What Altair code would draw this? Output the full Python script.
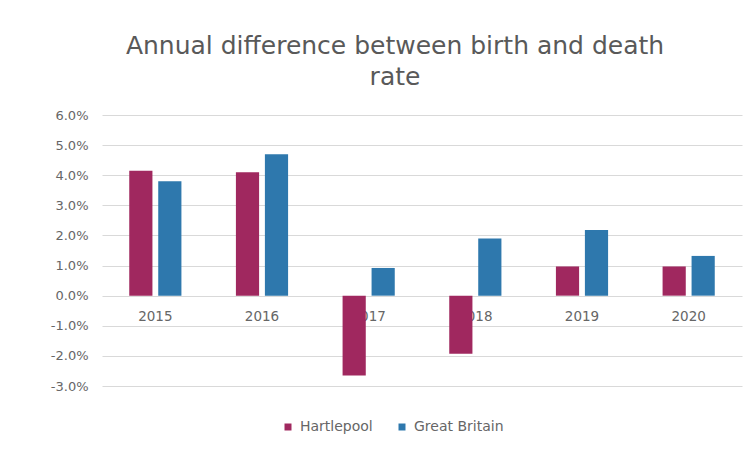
import altair as alt
import pandas as pd

years = ["2015", "2016", "2017", "2018", "2019", "2020"]
series = ["Hartlepool", "Great Britain"]
hartlepool = [4.15, 4.1, -2.65, -1.93, 0.97, 0.97]
great_britain = [3.8, 4.7, 0.92, 1.9, 2.18, 1.32]
y_ticks = [-3, -2, -1, 0, 1, 2, 3, 4, 5, 6]
colors = ["#a0285f", "#2e78ad"]

rows = []
for i, y in enumerate(years):
    rows.append({"year": y, "series": series[0], "value": hartlepool[i] / 100})
    rows.append({"year": y, "series": series[1], "value": great_britain[i] / 100})
df = pd.DataFrame(rows)

FONT = "DejaVu Sans"
TXT = "#666666"

chart = alt.Chart(df).mark_bar().encode(
    x=alt.X("year:N", sort=years,
            scale=alt.Scale(paddingInner=0, paddingOuter=0),
            axis=alt.Axis(title=None, offset=-90, domain=False, ticks=False,
                          labelAngle=0, labelPadding=13, labelFontSize=13.5,
                          labelColor=TXT, labelFont=FONT, grid=False)),
    xOffset=alt.XOffset("series:N", sort=series,
                        scale=alt.Scale(paddingInner=0.2, paddingOuter=0.94)),
    y=alt.Y("value:Q",
            scale=alt.Scale(domain=[-0.03, 0.06], nice=False, zero=False),
            axis=alt.Axis(title=None, values=[v / 100 for v in y_ticks],
                          format=".1%",
                          labelExpr="replace(datum.label, '\u2212', '-')",
                          domain=False, ticks=False, labelPadding=14,
                          labelFontSize=13, labelColor=TXT, labelFont=FONT,
                          grid=True, gridColor="#d9d9d9", gridWidth=1)),
    color=alt.Color("series:N", sort=series,
                    scale=alt.Scale(domain=series, range=colors),
                    legend=alt.Legend(title=None, orient="none", direction="horizontal",
                                      legendX=179, legendY=305,
                                      symbolType="square", symbolSize=49,
                                      symbolStrokeWidth=0,
                                      labelFontSize=14, labelFont=FONT,
                                      labelColor=TXT, columnPadding=22,
                                      labelOffset=5)),
).properties(
    width=640,
    height=271,
    padding={"left": 94, "top": 107, "right": 1, "bottom": 50},
    autosize=alt.AutoSizeParams(type="none"),
    title=alt.TitleParams(
        text=["Annual difference between birth and death", "rate"],
        anchor="middle", dx=-27, offset=19, fontSize=25, font=FONT,
        fontWeight="normal", color="#595959", lineHeight=31,
    ),
).configure_view(stroke=None)

chart.save("out.html", embed_options={"renderer": "svg", "actions": False})
